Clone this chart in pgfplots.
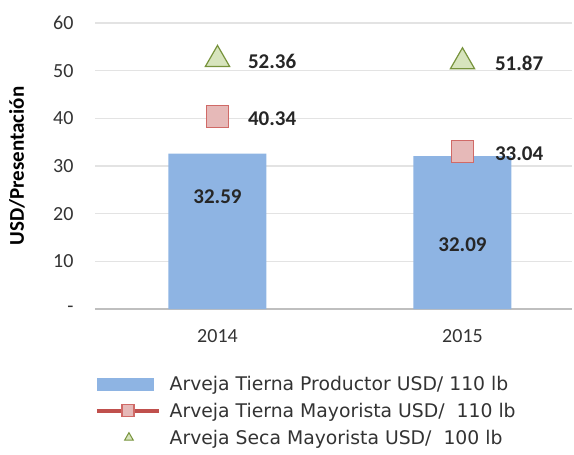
\documentclass[border=0pt]{standalone}
\usepackage{fontspec}
\setmainfont{Carlito}
\newfontfamily\legfont{DejaVu Sans}
\usepackage{pgfplots}
\pgfplotsset{compat=1.18}
\definecolor{barblue}{HTML}{8EB4E3}
\definecolor{sqfill}{HTML}{E6B9B8}
\definecolor{sqdraw}{HTML}{D06A67}
\definecolor{linered}{HTML}{C0504D}
\definecolor{trifill}{HTML}{D7E4BD}
\definecolor{tridraw}{HTML}{77933C}
\definecolor{gridgray}{HTML}{E3E3E3}
\definecolor{axisgray}{HTML}{BFBFBF}
\definecolor{ticktext}{HTML}{333333}

\begin{document}
\begin{tikzpicture}
\begin{axis}[
    scale only axis,
    width=477pt, height=286pt,
    xmin=-0.5, xmax=1.447,
    ymin=0, ymax=60,
    axis x line*=bottom, axis y line*=left,
    x axis line style={draw=axisgray, line width=1.5pt, -},
    y axis line style={draw=none},
    ymajorgrids,
    grid style={draw=gridgray, line width=1.5pt},
    major tick length=0pt,
    ytick={0,10,...,60},
    yticklabels={-,10,20,30,40,50,60},
    xtick={0,1},
    xticklabels={2014,2015},
    tick label style={font=\fontsize{20}{24}\selectfont, text=ticktext},
    yticklabel style={xshift=-18pt},
    xticklabel style={yshift=-17pt},
    ylabel={USD/Presentación},
    ylabel style={font=\bfseries\fontsize{21}{25}\selectfont, at={(axis description cs:-0.1635,0.5)}, anchor=center},
    clip=false,
    legend style={at={(rel axis cs:0,0)}, anchor=north west, yshift=-67pt,
        draw=none, fill=none, inner sep=0pt, row sep=11pt, column sep=9pt,
        font=\legfont\fontsize{18.8}{21}\selectfont, text=black!80,
        nodes={inner sep=0pt}},
    legend cell align=left,
]
\coordinate (sw) at (rel axis cs:0,0);
\coordinate (ne) at (rel axis cs:1,1);

\addplot[ybar, bar width=0.4, fill=barblue, draw=none,
    legend image code/.code={
        \path[draw=none, fill=none] (0pt,-7pt) rectangle (62pt,7pt);
        \fill[barblue] (0pt,-6.5pt) rectangle (57pt,6.5pt);}]
    coordinates {(0,32.59) (1,32.09)};
\addlegendentry{Arveja Tierna Productor USD/ 110 lb}

\addplot[only marks, mark=square*, mark size=11pt,
    mark options={fill=sqfill, draw=sqdraw, line width=1.5pt},
    legend image code/.code={
        \path[draw=none, fill=none] (0pt,-7pt) rectangle (62pt,7pt);
        \draw[linered, line width=3.5pt] (0pt,0pt) -- (62pt,0pt);
        \draw[fill=sqfill, draw=sqdraw, line width=1.2pt] (25pt,-6pt) rectangle (37pt,6pt);}]
    coordinates {(0,40.34) (1,33.04)};
\addlegendentry{Arveja Tierna Mayorista USD/\ \ 110 lb}

\addplot[only marks, mark=triangle*, mark size=14pt,
    mark options={fill=trifill, draw=tridraw, line width=1.2pt},
    legend image code/.code={
        \path[draw=none, fill=none] (0pt,-7pt) rectangle (62pt,7pt);
        \draw[fill=trifill, draw=tridraw, line width=1pt] (32pt,0pt) ++(90:5pt) -- ++(-120:8.66pt) -- ++(0:8.66pt) -- cycle;}]
    coordinates {(0,52.36) (1,51.87)};
\addlegendentry{Arveja Seca Mayorista USD/\ \ 100 lb}

\node[font=\bfseries\fontsize{21}{25}\selectfont, text=black!85] at (axis cs:0,23.5) {32.59};
\node[font=\bfseries\fontsize{21}{25}\selectfont, text=black!85] at (axis cs:1,13.4) {32.09};
\node[anchor=west, xshift=27pt, yshift=-2pt, font=\bfseries\fontsize{21}{25}\selectfont, text=black!85] at (axis cs:0,52.36) {52.36};
\node[anchor=west, xshift=27pt, yshift=-2pt, font=\bfseries\fontsize{21}{25}\selectfont, text=black!85] at (axis cs:0,40.34) {40.34};
\node[anchor=west, xshift=29pt, yshift=-2pt, font=\bfseries\fontsize{21}{25}\selectfont, text=black!85] at (axis cs:1,51.87) {51.87};
\node[anchor=west, xshift=29pt, yshift=-2pt, font=\bfseries\fontsize{21}{25}\selectfont, text=black!85] at (axis cs:1,33.04) {33.04};
\end{axis}
\pgfresetboundingbox
\path[use as bounding box] ([shift={(-95pt,-145pt)}]sw) rectangle ([shift={(2pt,23pt)}]ne);
\end{tikzpicture}
\end{document}
